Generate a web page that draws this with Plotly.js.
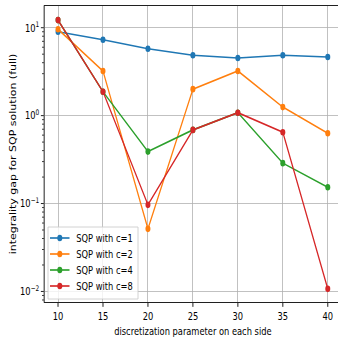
<!DOCTYPE html>
<html>
<head>
<meta charset="utf-8">
<script src="https://cdn.plot.ly/plotly-3.0.1.min.js"></script>
<style>
html,body{margin:0;padding:0;overflow:hidden;background:#fff;width:338px;height:343px;}
#chart{width:452px;height:343px;transform:scaleX(0.755);transform-origin:0 0;}
</style>
</head>
<body>
<div id="chart"></div>
<script>
const xVals = [10, 15, 20, 25, 30, 35, 40];
const c1 = [9.0, 7.3, 5.77, 4.86, 4.52, 4.86, 4.65];
const c2 = [9.6, 3.22, 0.0515, 2.0, 3.22, 1.25, 0.63];
const c4 = [12.2, 1.87, 0.39, 0.688, 1.08, 0.288, 0.153];
const c8 = [12.2, 1.87, 0.0966, 0.688, 1.08, 0.647, 0.0107];
const seriesNames = ["SQP with c=1", "SQP with c=2", "SQP with c=4", "SQP with c=8"];
const colors = ["#1f77b4", "#ff7f0e", "#2ca02c", "#d62728"];
const yTickVals = [0.01, 0.1, 1, 10];
const yTickText = ["10<sup>−2</sup>", "10<sup>−1</sup>", "10<sup>0</sup>", "10<sup>1</sup>"];
const xTickVals = [10, 15, 20, 25, 30, 35, 40];

const minorVals = [];
[0.001, 0.01, 0.1, 1, 10].forEach(d => { for (let k = 2; k <= 9; k++) minorVals.push(d * k); });

// figure geometry (pre-squeeze pixels)
const SX = 0.755, W = 452, H = 343, ML = 59, MR = 0, MT = 6, MB = 41;
const PW = W - ML - MR, PH = H - MT - MB;
const px = x => (x / SX - ML) / PW;     // screen x -> paper x
const py = y => (H - MB - y) / PH;      // screen y -> paper y

const font = {family: "DejaVu Sans", size: 11, color: "#000"};
const data = [c1, c2, c4, c8].map((ys, i) => ({
  x: xVals, y: ys, name: seriesNames[i], type: "scatter", mode: "lines+markers",
  line: {color: colors[i], width: 1.65},
  marker: {color: colors[i], size: 6.6},
  showlegend: false
}));

// hand-built legend box in matplotlib style
const shapes = [{
  type: "rect", xref: "paper", yref: "paper", layer: "above",
  x0: px(48), x1: px(138), y0: py(299), y1: py(227),
  fillcolor: "rgba(255,255,255,0.8)", line: {color: "#cccccc", width: 1}
}];
const annotations = [];
const rowY = [238, 254, 270, 286];
const rx = 3.3 / PW, ry = 3.3 / PH;
seriesNames.forEach((name, i) => {
  const yy = py(rowY[i]);
  shapes.push({type: "line", xref: "paper", yref: "paper", layer: "above",
    x0: px(50), x1: px(69.5), y0: yy, y1: yy, line: {color: colors[i], width: 1.65}});
  shapes.push({type: "circle", xref: "paper", yref: "paper", layer: "above",
    x0: px(59.8) - rx, x1: px(59.8) + rx, y0: yy - ry, y1: yy + ry,
    fillcolor: colors[i], line: {color: colors[i], width: 0}});
  annotations.push({text: name, xref: "paper", yref: "paper", x: px(74.5), y: yy,
    xanchor: "left", yanchor: "middle", showarrow: false, font: font});
});

const layout = {
  width: W, height: H,
  margin: {l: ML, r: MR, t: MT, b: MB},
  paper_bgcolor: "#fff", plot_bgcolor: "#fff",
  font: font,
  showlegend: false,
  shapes: shapes,
  annotations: annotations,
  xaxis: {
    range: [8.5, 41.5], tickvals: xTickVals, ticks: "outside", ticklen: 3.85, tickcolor: "#000",
    showgrid: true, gridcolor: "#b0b0b0", gridwidth: 0.9, zeroline: false,
    showline: true, linecolor: "#000", linewidth: 1, mirror: true,
    tickfont: font,
    title: {text: "discretization parameter on each side", font: font, standoff: 5}
  },
  yaxis: {
    type: "log", range: [-2.12, 1.247],
    tickvals: yTickVals, ticktext: yTickText, ticks: "outside", ticklen: 3.85, tickcolor: "#000",
    showgrid: true, gridcolor: "#b0b0b0", gridwidth: 0.9, zeroline: false,
    showline: true, linecolor: "#000", linewidth: 1, mirror: true,
    tickfont: font,
    minor: {tickvals: minorVals, ticks: "outside", ticklen: 2.2, tickcolor: "#000", showgrid: false},
    title: {text: "integrality gap for SQP solution (full)", font: font, standoff: 2}
  }
};

Plotly.newPlot("chart", data, layout, {displayModeBar: false, staticPlot: true});
</script>
</body>
</html>
